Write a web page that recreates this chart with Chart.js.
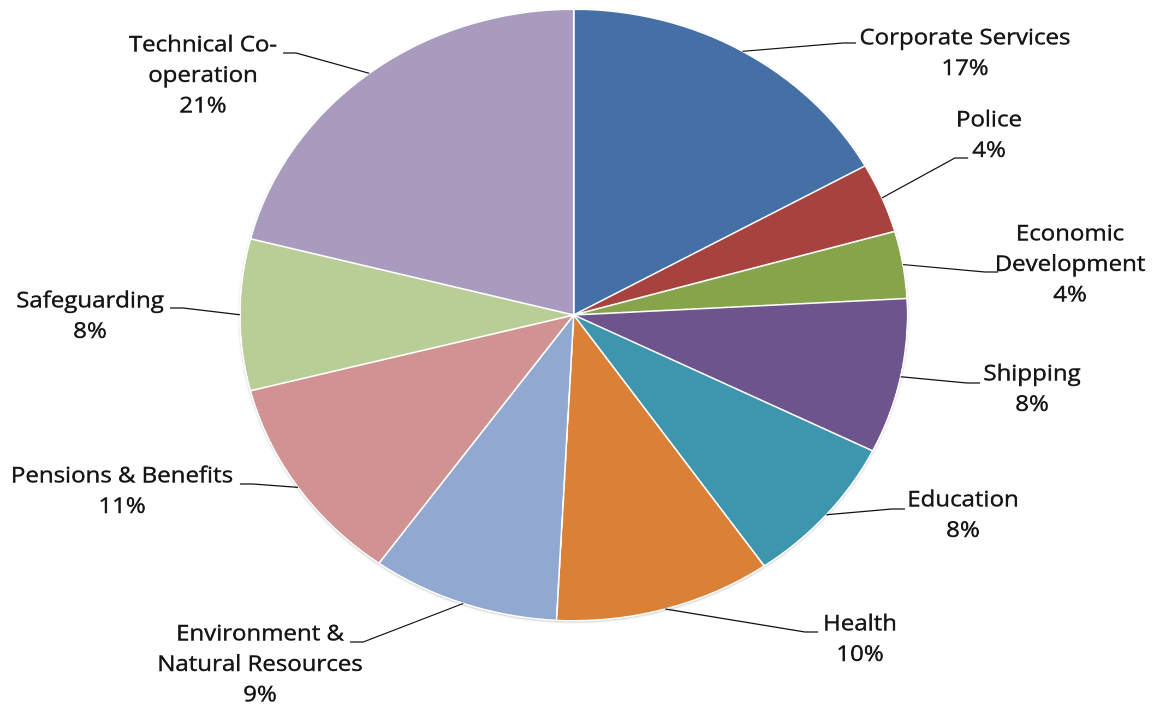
<!DOCTYPE html>
<html>
<head>
<meta charset="utf-8">
<script src="https://cdn.jsdelivr.net/npm/chart.js@4/dist/chart.umd.min.js"></script>
<style>
    html, body { margin: 0; padding: 0; background: #fff; overflow: hidden; }
    #wrap { width: 1068px; height: 707px; transform: scaleX(1.09176); transform-origin: 0 0; }
</style>
</head>
<body>
<div id="wrap"><canvas id="pie-canvas" width="1068" height="707"></canvas></div>
<script>
// 부서별 비율
const categories = [
    ['Corporate Services'],
    ['Police'],
    ['Economic', 'Development'],
    ['Shipping'],
    ['Education'],
    ['Health'],
    ['Environment &', 'Natural Resources'],
    ['Pensions & Benefits'],
    ['Safeguarding'],
    ['Technical Co-', 'operation']
];
const values = [16.9, 3.7, 3.55, 8.2, 8.0, 10.5, 9.1, 11.1, 8.0, 21.0];
const colors = ['#4470A5', '#A8423F', '#86A44A', '#6E548D', '#3D96AE',
                '#DA8137', '#91A8D0', '#D09392', '#B9CD96', '#A99BBD'];

// the reference picture is stretched sideways, so the whole canvas is too
const SX = 1166 / 1068;

// label placement in page px: text centre x, first line y, leader end point
const labelPos = [
    {x: 965, y: 38, ex: 856, ey: 43},
    {x: 989, y: 120, ex: 968, ey: 158},
    {x: 1070, y: 234, ex: 998, ey: 272},
    {x: 1032, y: 374, ex: 980, ey: 383},
    {x: 963, y: 500, ex: 905, ey: 509},
    {x: 860, y: 624, ex: 818, ey: 632},
    {x: 260, y: 634, ex: 350, ey: 642},
    {x: 122, y: 476, ex: 240, ey: 484},
    {x: 90, y: 301, ex: 170, ey: 308},
    {x: 203, y: 45, ex: 283, ey: 53}
];

const total = values.reduce((s, v) => s + v, 0);

const shadowPlugin = {
    id: 'pieShadow',
    beforeDatasetsDraw(chart) {
        const arc = chart.getDatasetMeta(0).data[0];
        if (!arc) return;
        const {x, y, outerRadius} = arc.getProps(['x', 'y', 'outerRadius'], true);
        const c = chart.ctx;
        c.save();
        c.shadowColor = 'rgba(0,0,0,0.35)';
        c.shadowBlur = 5;
        c.shadowOffsetY = 2;
        c.fillStyle = '#ffffff';
        c.beginPath();
        c.arc(x, y, outerRadius, 0, Math.PI * 2);
        c.fill();
        c.restore();
    }
};

const labelPlugin = {
    id: 'leaderLabels',
    afterDatasetsDraw(chart) {
        const c = chart.ctx;
        const meta = chart.getDatasetMeta(0);
        c.save();
        c.font = '22px "Open Sans"';
        c.textAlign = 'center';
        c.textBaseline = 'middle';
        meta.data.forEach((arc, i) => {
            const p = arc.getProps(['x', 'y', 'startAngle', 'endAngle', 'outerRadius'], true);
            const mid = (p.startAngle + p.endAngle) / 2;
            const sx = p.x + Math.cos(mid) * p.outerRadius;
            const sy = p.y + Math.sin(mid) * p.outerRadius;
            const pos = labelPos[i];
            const ex = pos.ex / SX;
            const ey = pos.ey;
            const dir = ex > sx ? 1 : -1;

            c.strokeStyle = '#111';
            c.lineWidth = 1.2;
            c.beginPath();
            c.moveTo(sx, sy);
            c.lineTo(ex - dir * 12, ey);
            c.lineTo(ex, ey);
            c.stroke();

            const lines = categories[i].concat([Math.round(values[i] / total * 100) + '%']);
            c.fillStyle = '#151515';
            c.strokeStyle = '#151515';
            c.lineWidth = 0.45;
            lines.forEach((t, k) => {
                c.fillText(t, pos.x / SX, pos.y + k * 30.5);
                c.strokeText(t, pos.x / SX, pos.y + k * 30.5);
            });
        });
        c.restore();
    }
};

const ctx = document.getElementById('pie-canvas').getContext('2d');

const chart = new Chart(ctx, {
    type: 'pie',
    data: {
        labels: categories.map(c => c.join(' ')),
        datasets: [{
            data: values,
            backgroundColor: colors,
            borderColor: '#ffffff',
            borderWidth: 1.5
        }]
    },
    options: {
        responsive: false,
        animation: false,
        devicePixelRatio: 2,
        layout: {
            padding: {left: 219, right: 236, top: 8, bottom: 85}
        },
        plugins: {
            legend: { display: false },
            tooltip: { enabled: false }
        }
    },
    plugins: [shadowPlugin, labelPlugin]
});
</script>
</body>
</html>
